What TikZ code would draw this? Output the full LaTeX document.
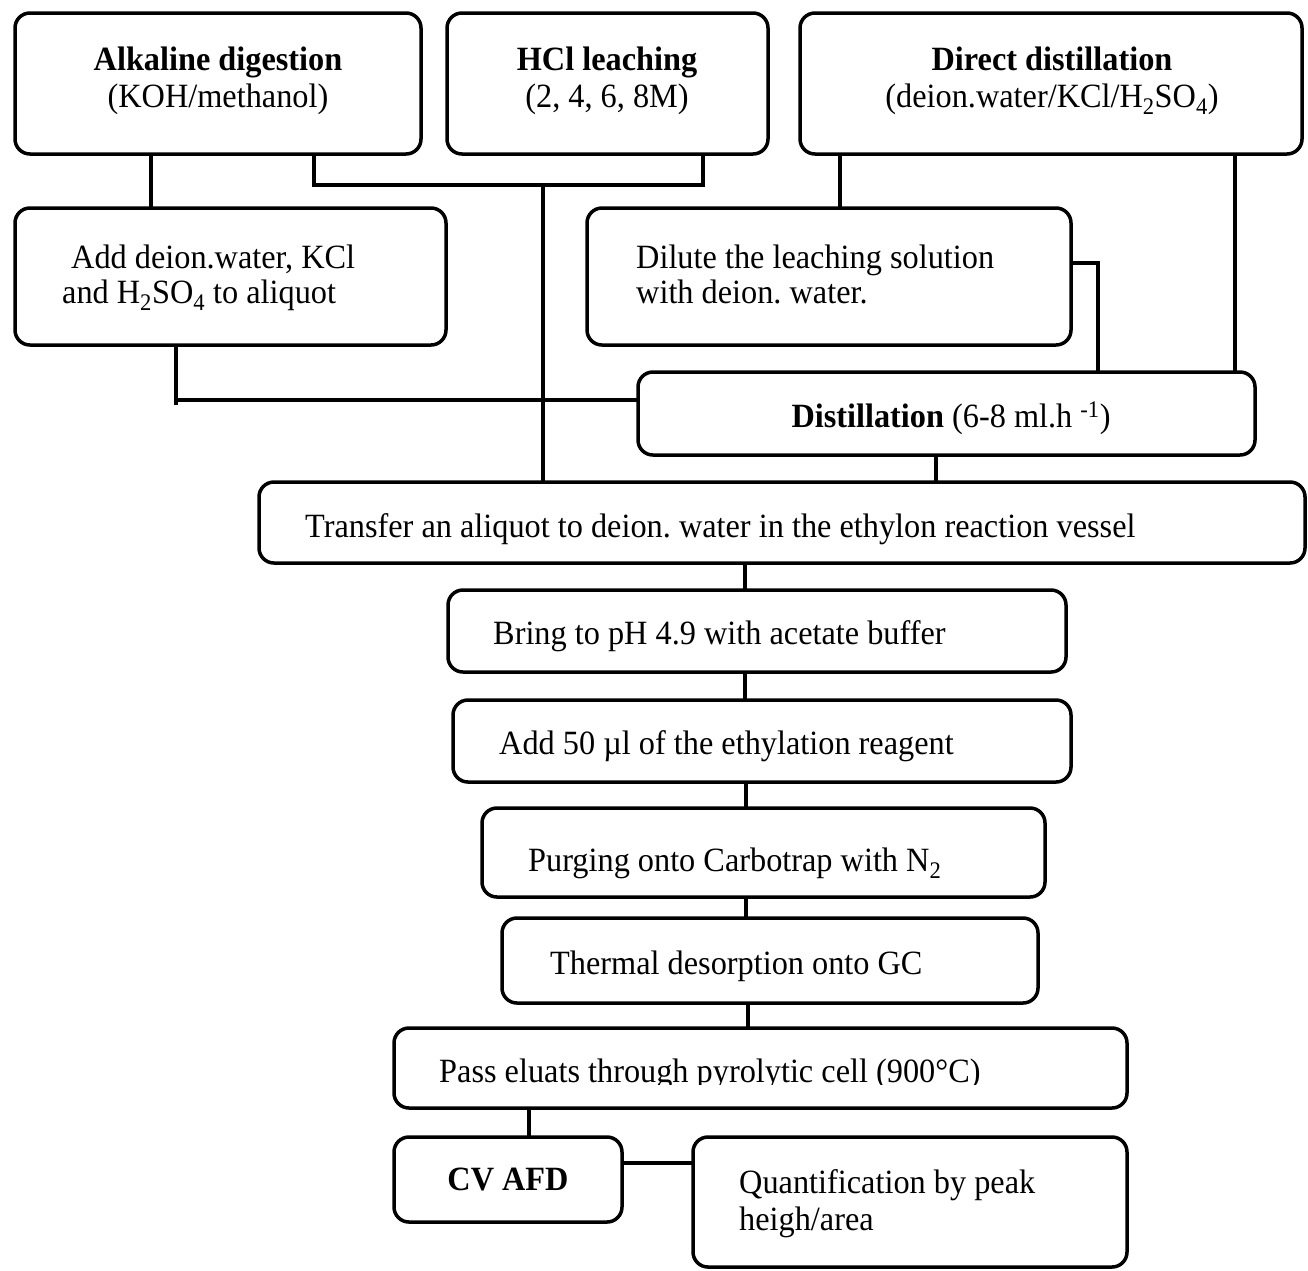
\documentclass[tikz,border=0pt]{standalone}
\usepackage{fontspec}
\setmainfont{Liberation Serif}[FakeStretch=0.95]
\begin{document}
\begin{tikzpicture}[x=1pt,y=-1pt,
  box/.style={draw,line width=3.5pt,rounded corners=15pt,inner sep=0pt,outer sep=0pt},
  txt/.style={inner sep=0pt,font=\fontsize{34pt}{38pt}\selectfont\frenchspacing},
  link/.style={line width=3.5pt,line cap=butt}]
\useasboundingbox (0,0) rectangle (1308,1270);
\fill[white] (0,0) rectangle (1308,1270);
% boxes
\node[box,minimum width=406pt,minimum height=141pt] (alk) at (218,83.5) {};
\node[box,minimum width=321pt,minimum height=141pt] (hcl) at (607.5,83.5) {};
\node[box,minimum width=502pt,minimum height=141pt] (dir) at (1051,83.5) {};
\node[box,minimum width=431pt,minimum height=137pt] (add) at (230.5,276.5) {};
\node[box,minimum width=484pt,minimum height=137pt] (dil) at (829,276.5) {};
\node[box,minimum width=617pt,minimum height=83pt] (dis) at (946.5,413.5) {};
\node[box,minimum width=1046pt,minimum height=81pt] (tra) at (782,522.5) {};
\node[box,minimum width=618pt,minimum height=82pt] (ph) at (757,631) {};
\node[box,minimum width=618pt,minimum height=82pt] (a50) at (762,741) {};
\node[box,minimum width=563pt,minimum height=89pt] (pur) at (763.5,852.5) {};
\node[box,minimum width=536pt,minimum height=85pt] (the) at (770,960.5) {};
\node[box,minimum width=733pt,minimum height=80pt] (pas) at (760.5,1068) {};
\node[box,minimum width=228pt,minimum height=85pt] (cv) at (508,1179.5) {};
\node[box,minimum width=434pt,minimum height=130pt] (qua) at (910,1202) {};
% texts
\node[txt,anchor=base] (t1a) at (218,70) {\textbf{Alkaline digestion}};
\node[txt,anchor=base] (t1b) at (218,107) {(KOH/methanol)};
\node[txt,anchor=base] (t2a) at (607,70) {\textbf{HCl leaching}};
\node[txt,anchor=base] (t2b) at (607,107) {(2, 4, 6, 8M)};
\node[txt,anchor=base] (t3a) at (1052,70) {\textbf{Direct distillation}};
\node[txt,anchor=base] (t3b) at (1052,107) {(deion.water/KCl/H\textsubscript{2}SO\textsubscript{4})};
\node[txt,anchor=base west] (t4a) at (71,268) {Add deion.water, KCl};
\node[txt,anchor=base west] (t4b) at (62,303) {and H\textsubscript{2}SO\textsubscript{4} to aliquot};
\node[txt,anchor=base west] (t5a) at (636,268) {Dilute the leaching solution};
\node[txt,anchor=base west] (t5b) at (636,303) {with deion. water.};
\node[txt,anchor=base] (t6) at (951,427) {\textbf{Distillation} (6-8 ml.h \textsuperscript{-1})};
\node[txt,anchor=base west] (t7) at (305,537) {Transfer an aliquot to deion. water in the ethylon reaction vessel};
\node[txt,anchor=base west] (t8) at (493,644) {Bring to pH 4.9 with acetate buffer};
\node[txt,anchor=base west] (t9) at (499,754) {Add 50 µl of the ethylation reagent};
\node[txt,anchor=base west] (t10) at (528,871) {Purging onto Carbotrap with N\textsubscript{2}};
\node[txt,anchor=base west] (t11) at (550,974) {Thermal desorption onto GC};
\begin{scope}
\clip (0,0) rectangle (1308,1084);
\node[txt,anchor=base west] (t12) at (439,1082) {Pass eluats through pyrolytic cell (900°C)};
\end{scope}
\node[txt,anchor=base] (t13) at (508,1190) {\textbf{CV AFD}};
\node[txt,anchor=base west] (t14a) at (739,1193) {Quantification by peak};
\node[txt,anchor=base west] (t14b) at (739,1230) {heigh/area};
% junction coordinates
\coordinate (x151) at (151,0);
\coordinate (j1) at (314,185);
\coordinate (j2) at (703,185);
\coordinate (j3) at (543,183);
\coordinate (j4) at (176,405);
\coordinate (j5) at (176,400);
\coordinate (x840) at (840,0);
\coordinate (x1235) at (1235,0);
\coordinate (j7) at (1098,263);
\coordinate (x936) at (936,0);
\coordinate (x745) at (745,0);
\coordinate (x746) at (746,0);
\coordinate (x748) at (748,0);
\coordinate (x529) at (529,0);
\coordinate (j8) at (0,1163);
% connectors
\draw[link] (alk.south -| x151) -- (add.north -| x151);
\draw[link] (alk.south -| j1) -- (j1) -- (j2) -- (hcl.south -| j2);
\draw[link] (j3) -- (tra.north -| j3);
\draw[link] (add.south -| j4) -- (j4);
\draw[link] (j5) -- (dis.west |- j5);
\draw[link] (dir.south -| x840) -- (dil.north -| x840);
\draw[link] (dir.south -| x1235) -- (dis.north -| x1235);
\draw[link] (dil.east |- j7) -- (j7) -- (dis.north -| j7);
\draw[link] (dis.south -| x936) -- (tra.north -| x936);
\draw[link] (tra.south -| x745) -- (ph.north -| x745);
\draw[link] (ph.south -| x745) -- (a50.north -| x745);
\draw[link] (a50.south -| x746) -- (pur.north -| x746);
\draw[link] (pur.south -| x746) -- (the.north -| x746);
\draw[link] (the.south -| x748) -- (pas.north -| x748);
\draw[link] (pas.south -| x529) -- (cv.north -| x529);
\draw[link] (cv.east |- j8) -- (qua.west |- j8);
\end{tikzpicture}
\end{document}
